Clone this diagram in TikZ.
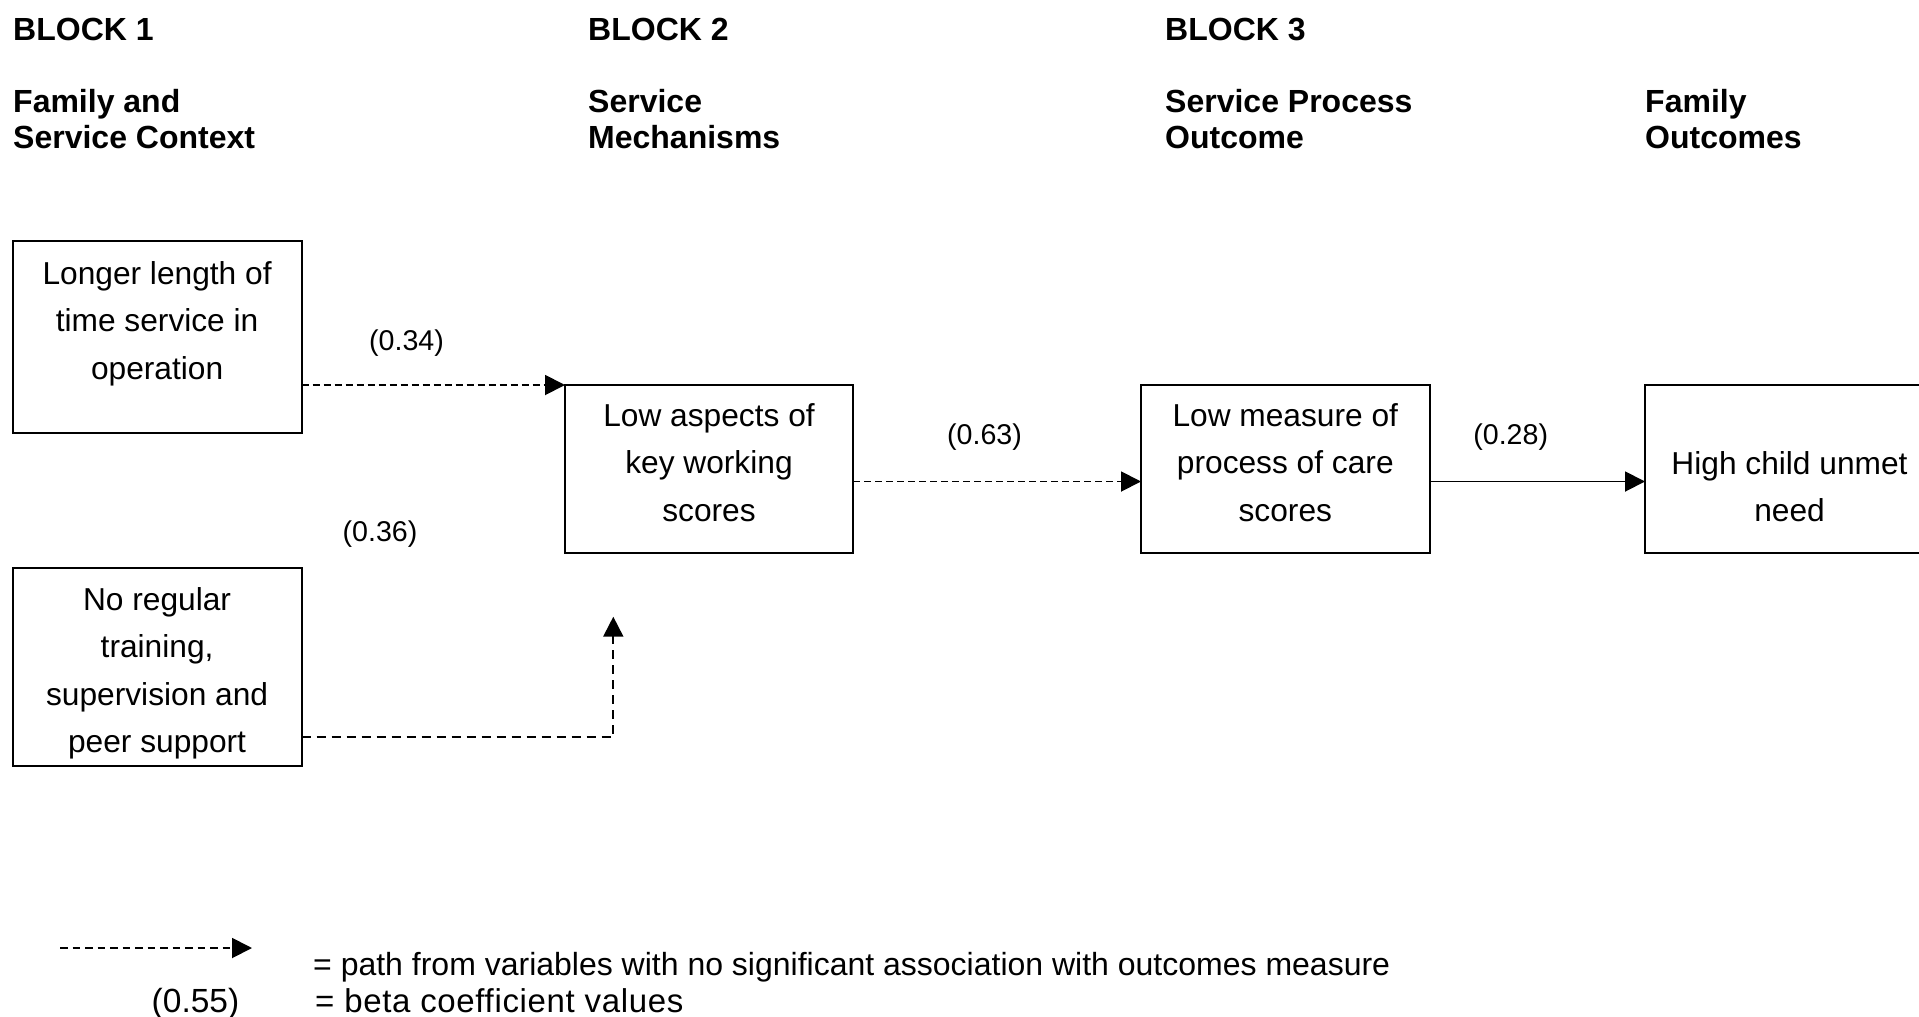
\documentclass[tikz,border=0pt]{standalone}
\usepackage{fontspec}
\setmainfont{Liberation Sans}
\usetikzlibrary{arrows.meta}
\newcommand\fstrut{\rule{0pt}{30pt}}
\newcommand\hstrut{\rule{0pt}{28pt}}
\tikzset{
  box/.style={draw, line width=2pt, rectangle, inner sep=0pt, outer sep=0pt, anchor=north west},
  btext/.style={font=\fontsize{31.7}{47.5}\selectfont, align=center, inner sep=0pt, anchor=north},
  head/.style={font=\bfseries\fontsize{32}{36.3}\selectfont, align=left, inner sep=0pt},
  coef/.style={font=\fontsize{28.6}{34}\selectfont, inner sep=0pt, anchor=base},
  legtext/.style={inner sep=0pt, anchor=base west},
  conn/.style={line width=1.9pt, -{Triangle[length=20pt,width=20pt]}},
}
\begin{document}
\begin{tikzpicture}[x=1pt,y=-1pt]
\useasboundingbox (0,0) rectangle (1919,1017);
\clip (0,0) rectangle (1919,1017);

% headers
\node[head, anchor=base west] (h1) at (13,40) {BLOCK 1};
\node[head, anchor=base west] (h2) at (588,40) {BLOCK 2};
\node[head, anchor=base west] (h3) at (1165,40) {BLOCK 3};
\node[head, anchor=north west] (s1) at (13,84) {\hstrut Family and\\Service Context};
\node[head, anchor=north west] (s2) at (588,84) {\hstrut Service\\Mechanisms};
\node[head, anchor=north west] (s3) at (1165,84) {\hstrut Service Process\\Outcome};
\node[head, anchor=north west] (s4) at (1645,84) {\hstrut Family\\Outcomes};

% boxes
\node[box, minimum width=288.8pt, minimum height=192pt] (A) at (12.7,241) {};
\node[box, minimum width=288pt, minimum height=167.7pt] (B) at (565,385) {};
\node[box, minimum width=288.5pt, minimum height=167.7pt] (C) at (1141,385) {};
\node[box, minimum width=289pt, minimum height=167.7pt] (D) at (1645,385) {};
\node[box, minimum width=288.8pt, minimum height=198.3pt] (E) at (12.7,567.7) {};

% box texts
\node[btext] (At) at (157.1,254) {\fstrut Longer length of\\time service in\\operation};
\node[btext] (Bt) at (709,396) {\fstrut Low aspects of\\key working\\scores};
\node[btext] (Ct) at (1285.3,396) {\fstrut Low measure of\\process of care\\scores};
\node[btext] (Dt) at (1789.5,444) {\fstrut High child unmet\\need};
\node[btext] (Et) at (157.1,580) {\fstrut No regular\\training,\\supervision and\\peer support};

% connectors
\coordinate (bc) at (0,481.5);
\coordinate (eb) at (613.3,616.7);
\coordinate (ey) at (0,736.7);
\draw[conn, dash pattern=on 7pt off 4pt] (A.east |- B.north west) -- (B.north west);
\draw[conn, dash pattern=on 7pt off 4pt] (B.east |- bc) -- (C.west |- bc);
\draw[conn] (C.east |- bc) -- (D.west |- bc);
\draw[conn, dash pattern=on 9pt off 6pt] (E.east |- ey) -| (eb);

% coefficients
\node[coef] (c34) at (406.5,350.5) {(0.34)};
\node[coef] (c36) at (380,541.5) {(0.36)};
\node[coef] (c63) at (984.5,444) {(0.63)};
\node[coef] (c28) at (1510.7,444) {(0.28)};

% legend
\coordinate (l1) at (60,948);
\coordinate (l2) at (252,948);
\draw[conn, dash pattern=on 7.5pt off 5pt] (l1) -- (l2);
\node[legtext, font=\fontsize{32}{38}\selectfont] (lg1) at (313,975) {= path from variables with no significant association with outcomes measure};
\node[coef, font=\fontsize{33.5}{40}\selectfont] (lg2) at (195.5,1012) {(0.55)};
\node[legtext, font=\fontsize{33}{38}\selectfont] (lg3) at (315,1012) {\addfontfeature{LetterSpace=2}= beta coefficient values};
\end{tikzpicture}
\end{document}
